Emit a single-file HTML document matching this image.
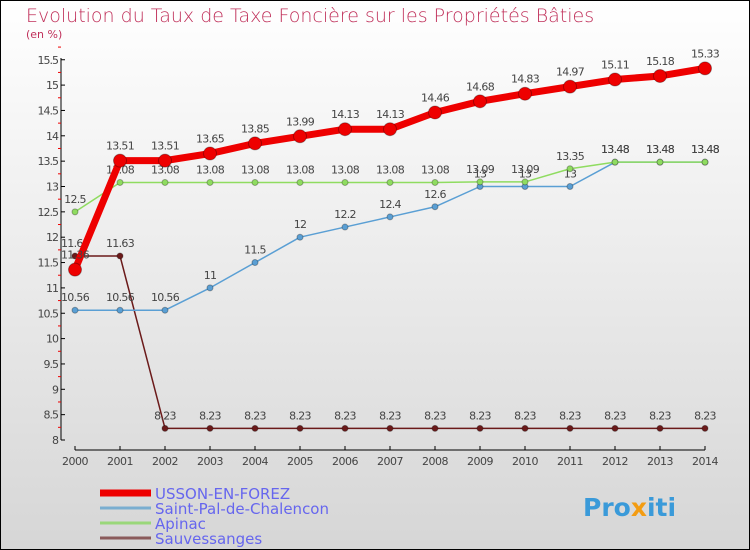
<!DOCTYPE html>
<html><head><meta charset="utf-8"><style>
body{margin:0}
#c{width:750px;height:550px;position:relative;box-sizing:border-box;border:1px solid #000;background:linear-gradient(#ffffff,#d6d6d6);font-family:"DejaVu Sans","Liberation Sans",sans-serif;overflow:hidden}
</style></head><body>
<div id="c">
<svg id="s" width="750" height="550" style="position:absolute;left:-1px;top:-1px">
<text x="26" y="22" font-size="19" fill="#c0305a" style="font-weight:200">Evolution du Taux de Taxe Foncière sur les Propriétés Bâties</text>
<text x="26" y="38" font-size="11" fill="#c0305a">(en %)</text>
<g id="axes"></g><g id="series"></g><g id="legend"></g>
<text x="583" y="516" font-size="25" font-weight="bold" fill="#3a9ad9">Pro<tspan fill="#f39c12">x</tspan>iti</text>
</svg></div>
<script>
const years=[2000,2001,2002,2003,2004,2005,2006,2007,2008,2009,2010,2011,2012,2013,2014];
const yTicks=[8,8.5,9,9.5,10,10.5,11,11.5,12,12.5,13,13.5,14,14.5,15,15.5];
const usson=[11.36,13.51,13.51,13.65,13.85,13.99,14.13,14.13,14.46,14.68,14.83,14.97,15.11,15.18,15.33];
const saintPal=[10.56,10.56,10.56,11,11.5,12,12.2,12.4,12.6,13,13,13,13.48,13.48,13.48];
const apinac=[12.5,13.08,13.08,13.08,13.08,13.08,13.08,13.08,13.08,13.09,13.09,13.35,13.48,13.48,13.48];
const sauv=[11.63,11.63,8.23,8.23,8.23,8.23,8.23,8.23,8.23,8.23,8.23,8.23,8.23,8.23,8.23];
const names=["USSON-EN-FOREZ","Saint-Pal-de-Chalencon","Apinac","Sauvessanges"];
const NS="http://www.w3.org/2000/svg";
const X=i=>75+i*45, Y=v=>440-(v-8)*50.7;
function mk(p,t,a){const e=document.createElementNS(NS,t);for(const k in a)e.setAttribute(k,a[k]);p.appendChild(e);return e;}
const ax=document.getElementById('axes');
let l=mk(ax,'line',{x1:61,y1:58,x2:61,y2:440,stroke:'#000'});


l=mk(ax,'line',{x1:75,y1:450,x2:705,y2:450,stroke:'#000'});


yTicks.forEach(v=>{mk(ax,'line',{x1:61,y1:Y(v),x2:65,y2:Y(v),stroke:'#000'});
mk(ax,'line',{x1:58,y1:Y(v+0.25),x2:61,y2:Y(v+0.25),stroke:'#e00'});
const t=mk(ax,'text',{x:58,y:Y(v)+4,'font-size':11,fill:'#444','text-anchor':'end','letter-spacing':'-1'});t.textContent=v;

});
years.forEach((y,i)=>{mk(ax,'line',{x1:X(i),y1:446,x2:X(i),y2:450,stroke:'#000'});
const t=mk(ax,'text',{x:X(i),y:465,'font-size':11,fill:'#444','text-anchor':'middle','letter-spacing':'-0.5'});t.textContent=y;

});
const sg=document.getElementById('series');
function draw(data,color,w,r,name,dy){
const g=mk(sg,'g',{});


mk(g,'polyline',{points:data.map((v,i)=>X(i)+','+Y(v)).join(' '),fill:'none',stroke:color,'stroke-width':w,'stroke-linejoin':'round'});
data.forEach((v,i)=>{const c=mk(g,'circle',{cx:X(i),cy:Y(v),r:r,fill:color,stroke:'rgba(0,0,0,0.3)'});


const t=mk(g,'text',{x:X(i),y:Y(v)-dy,'font-size':11,fill:'#444','text-anchor':'middle','letter-spacing':'-0.7'});t.textContent=v;

});}
draw(sauv,'#6b1a1a',1.5,3,'series-sauvessanges',9);
draw(saintPal,'#5a9fd4',1.5,3,'series-saint-pal',9);
draw(apinac,'#8fdc60',1.5,3,'series-apinac',9);
draw(usson,'#ee0000',7,6.5,'series-usson',11);
const lg=document.getElementById('legend');
const cols=['#ee0000','#7aaed0','#9ad77a','#8a5a5a'],ws=[7,3,3,3];
names.forEach((n,i)=>{const y=493+i*15;
const r=mk(lg,'line',{x1:100,y1:y,x2:151,y2:y,stroke:cols[i],'stroke-width':ws[i]});


const t=mk(lg,'text',{x:155,y:y+6,'font-size':15,fill:'#6666ee'});t.textContent=n;

});
</script>
</body></html>
